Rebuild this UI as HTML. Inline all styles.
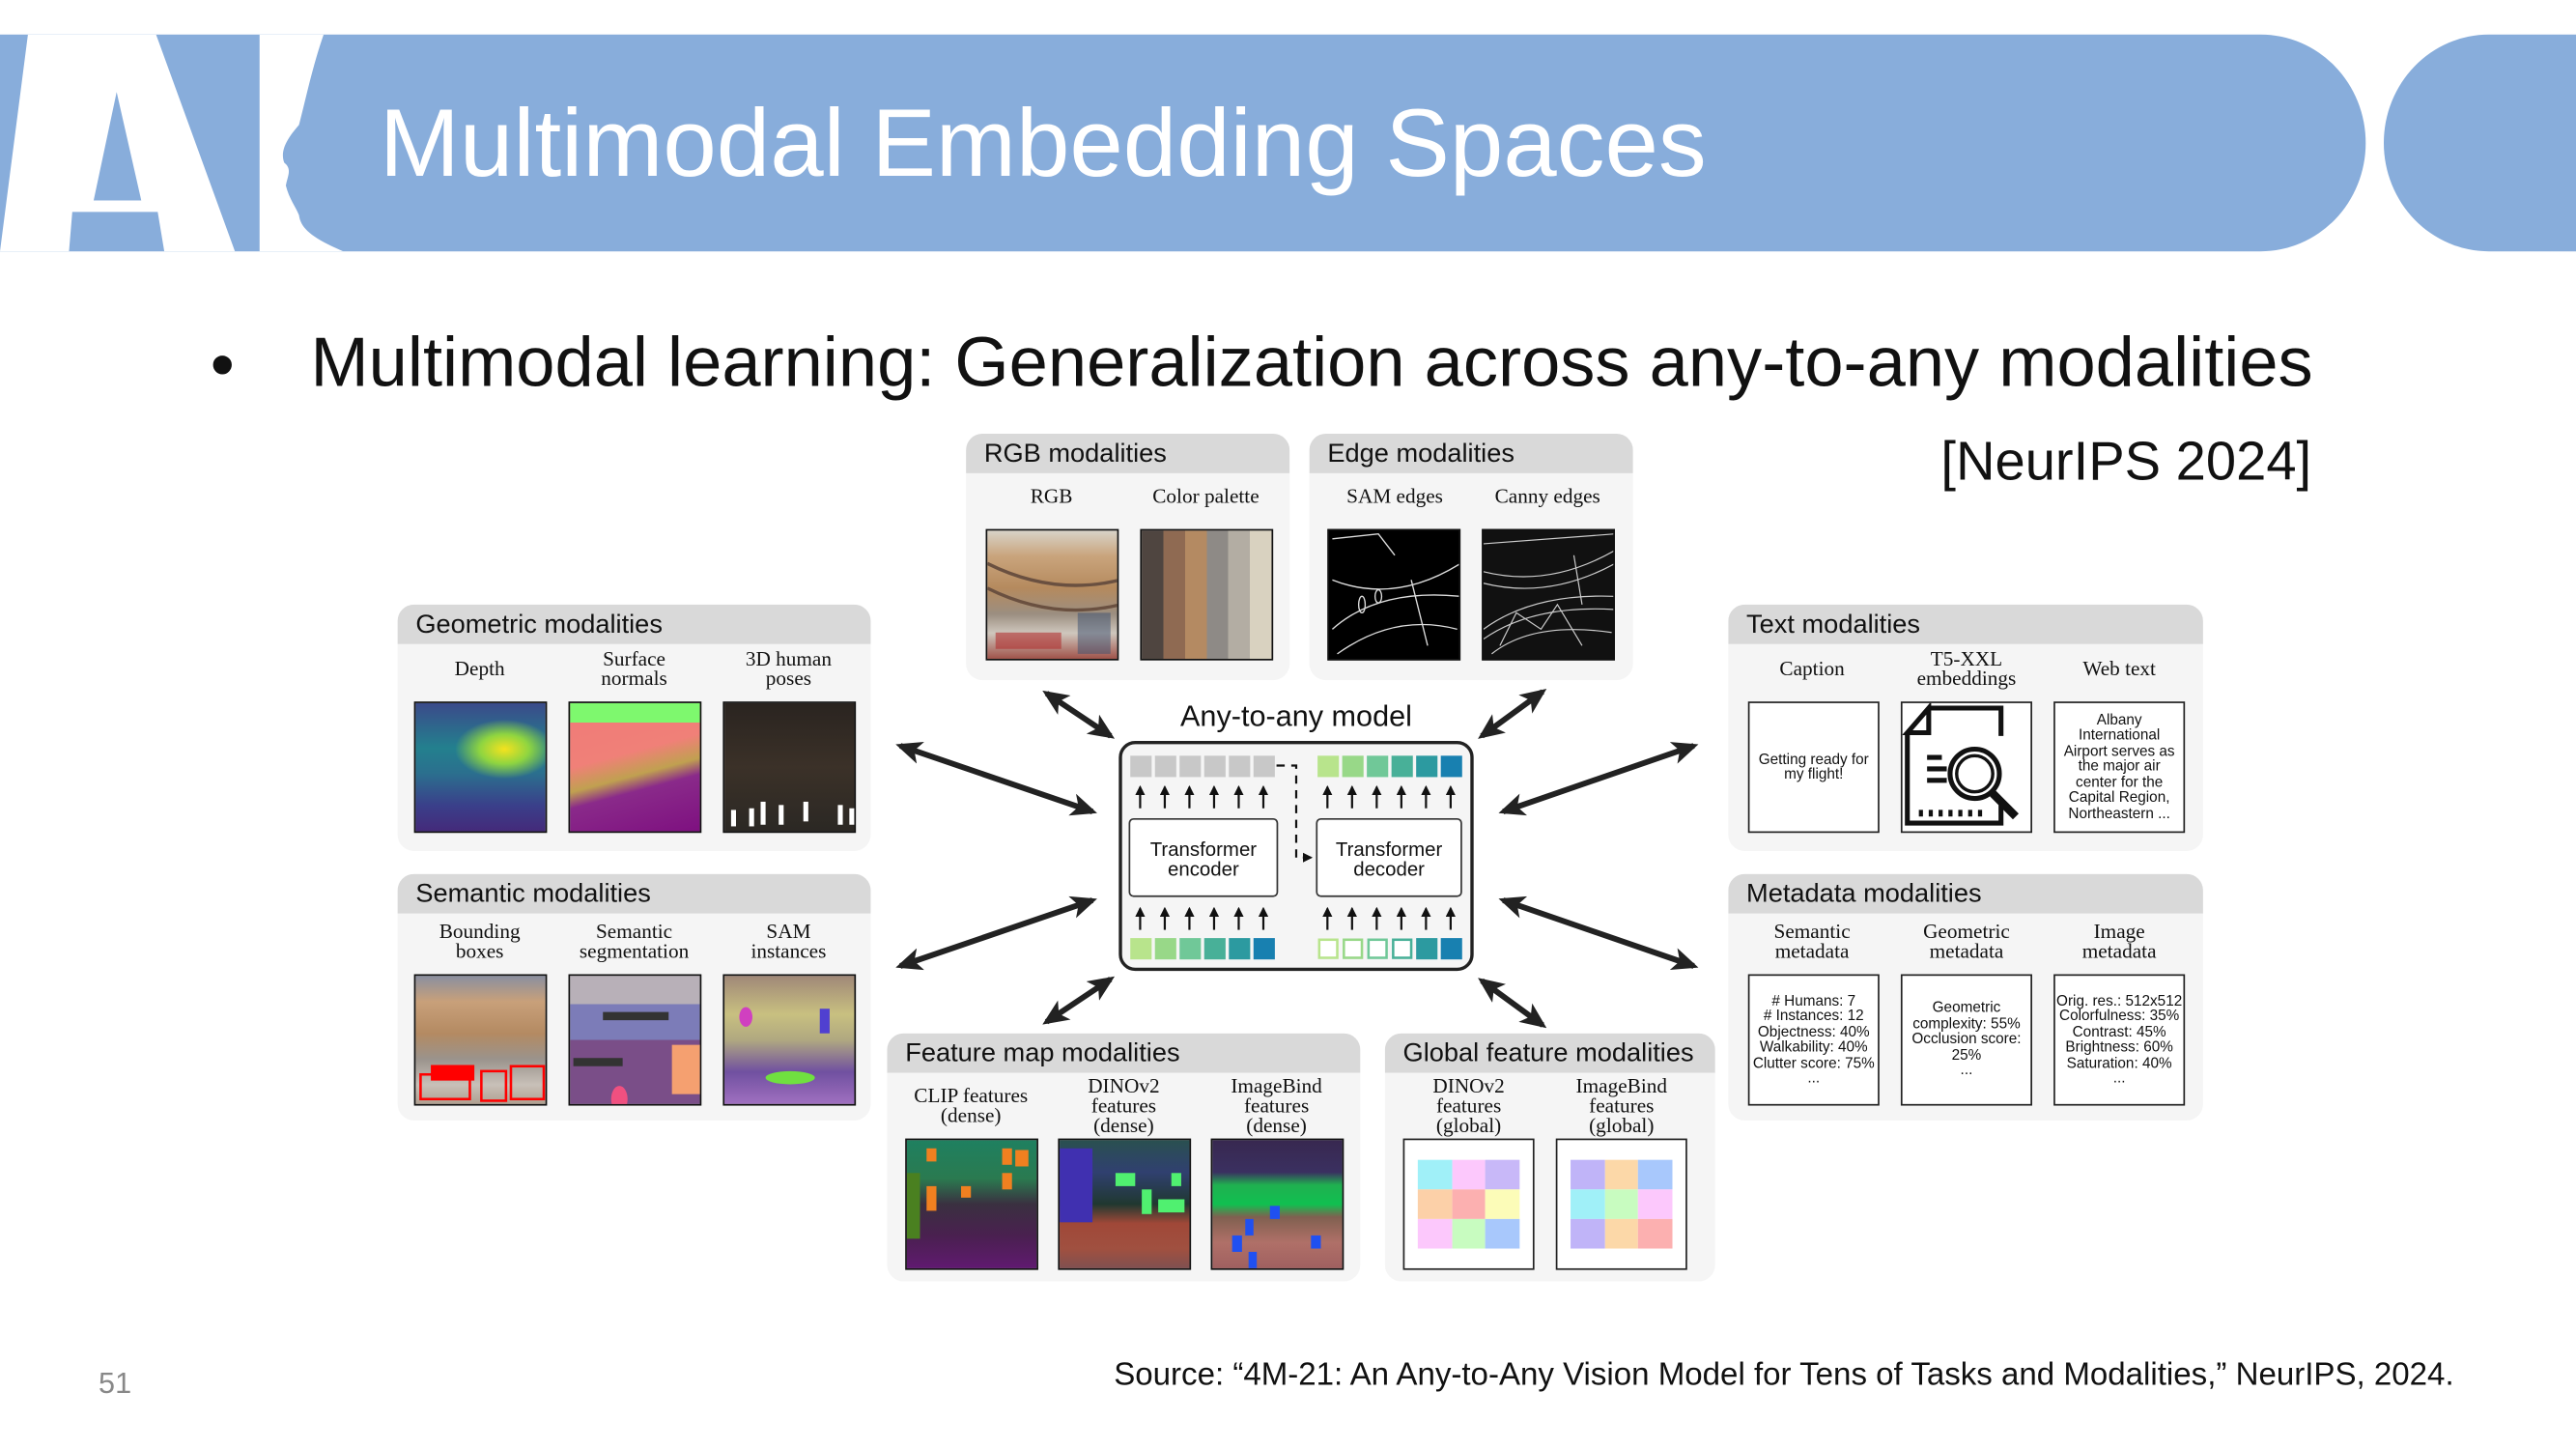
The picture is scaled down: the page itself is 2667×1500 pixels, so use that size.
<!DOCTYPE html>
<html><head><meta charset="utf-8"><style>
*{margin:0;padding:0;box-sizing:border-box}
html,body{width:2667px;height:1500px;overflow:hidden;background:#fff}
#root{position:absolute;left:0;top:0;width:1568px;height:882px;transform:scale(1.70089,1.70068);transform-origin:0 0;font-family:"Liberation Sans",sans-serif;color:#111}
.abs{position:absolute}
.panel{position:absolute;background:#f5f5f5;border-radius:10px;overflow:hidden}
.ph{position:absolute;left:0;top:0;right:0;height:24px;background:#d9d9d9;font-size:16px;line-height:26px;padding-left:11px;color:#111}
.lbl{position:absolute;width:100px;text-align:center;font-family:"Liberation Serif",serif;font-size:12.5px;line-height:12px;color:#111}
.img{position:absolute;width:81px;height:80px;border:1.5px solid #111;overflow:hidden}
.tb{position:absolute;width:80px;height:80px;border:1.2px solid #222;background:#fff;font-size:9px;line-height:9.5px;text-align:center;display:flex;align-items:center;justify-content:center}
</style></head><body><div id="root">

<div class="abs" style="left:0;top:21px;width:1440px;height:132px;background:#88addb;border-radius:0 64px 64px 0/0 66px 66px 0"></div>
<div class="abs" style="left:1451px;top:21px;width:130px;height:132px;background:#88addb;border-radius:64px 0 0 64px/66px 0 0 66px"></div>
<svg class="abs" style="left:0;top:21px" width="220" height="132" viewBox="0 0 220 132">
<polygon points="0,132 17,0 95,0 143,132 100,132 96,108 44,108 42,132" fill="#fff"/>
<polygon points="71,35 57,101 86,101" fill="#88addb"/>
<path d="M158,0 L197,0 C190,20 186,40 182,55 C176,62 170,70 173,78 C178,82 175,86 174,92 C176,100 180,105 182,110 C183,118 190,124 209,132 L158,132 Z" fill="#fff"/>
</svg>
<div class="abs" style="left:231px;top:53px;font-size:58.6px;line-height:70px;color:#fff;white-space:nowrap">Multimodal Embedding Spaces</div>

<div class="abs" style="left:128px;top:197px;font-size:42px;line-height:50px">•</div>
<div class="abs" style="left:189px;top:197px;font-size:42.5px;line-height:50px;white-space:nowrap">Multimodal learning: Generalization across any-to-any modalities</div>
<div class="abs" style="left:1100px;width:307px;top:261px;font-size:33px;line-height:40px;text-align:right">[NeurIPS 2024]</div>

<div class="panel" style="left:588px;top:264px;width:197px;height:150px"><div class="ph">RGB modalities</div></div>
<div class="lbl" style="left:590px;top:296px">RGB</div>
<div class="lbl" style="left:684px;top:296px">Color palette</div>
<div class="img" style="left:600px;top:322px;background:linear-gradient(180deg,#d8d3c8 0%,#c9a47c 20%,#b58a5e 45%,#9b8e80 65%,#cfc7bd 80%,#a0534a 100%)">
<svg width="81" height="80"><path d="M0,20 Q40,40 81,30" stroke="#6a5040" stroke-width="2" fill="none"/><path d="M0,35 Q40,55 81,45" stroke="#6a5040" stroke-width="2" fill="none"/><rect x="5" y="62" width="40" height="10" fill="#b03030" opacity=".6"/><rect x="55" y="50" width="20" height="25" fill="#3c5070" opacity=".5"/></svg></div>
<div class="img" style="left:694px;top:322px;background:linear-gradient(90deg,#4f4540 0 16.6%,#8f6a52 16.6% 33.3%,#b48a62 33.3% 50%,#8e8a86 50% 66.6%,#b3ada3 66.6% 83.3%,#d9d2c0 83.3%)"></div>

<div class="panel" style="left:797px;top:264px;width:197px;height:150px"><div class="ph">Edge modalities</div></div>
<div class="lbl" style="left:799px;top:296px">SAM edges</div>
<div class="lbl" style="left:892px;top:296px">Canny edges</div>
<div class="img" style="left:808px;top:322px;background:#000"><svg width="81" height="80" fill="none" stroke="#ddd" stroke-width=".8"><path d="M2,30 Q40,45 80,20"/><path d="M2,60 Q30,35 80,40"/><path d="M5,75 Q40,50 78,60"/><ellipse cx="20" cy="45" rx="2" ry="5"/><ellipse cx="30" cy="40" rx="2" ry="4"/><path d="M2,5 L30,2 L40,15"/><path d="M50,30 L60,70"/></svg></div>
<div class="img" style="left:902px;top:322px;background:#111"><svg width="81" height="80" fill="none" stroke="#ccc" stroke-width=".7"><path d="M0,25 Q40,35 80,12"/><path d="M0,32 Q40,42 80,20"/><path d="M0,60 Q30,38 80,40"/><path d="M0,66 Q30,45 80,48"/><path d="M5,75 Q30,55 78,62"/><path d="M10,70 L20,50 L35,60 L45,45 L60,70"/><path d="M0,8 L80,2"/><path d="M55,15 L60,45"/></svg></div>

<div class="panel" style="left:242px;top:368px;width:288px;height:150px"><div class="ph">Geometric modalities</div></div>
<div class="lbl" style="left:242px;top:401px">Depth</div>
<div class="lbl" style="left:336px;top:395px">Surface<br>normals</div>
<div class="lbl" style="left:430px;top:395px">3D human<br>poses</div>
<div class="img" style="left:252px;top:427px;background:radial-gradient(ellipse 30px 18px at 54px 28px,#f4e21e,#8fd540 50%,rgba(32,150,140,0) 100%),linear-gradient(180deg,#3b4a8a 0%,#23808e 35%,#2b6f8e 55%,#3a3f8a 80%,#442a7a 100%)"></div>
<div class="img" style="left:346px;top:427px;background:linear-gradient(180deg,#7ef86e 0 15%,transparent 15%),linear-gradient(165deg,#f07a78 0%,#f08078 40%,#c0a050 55%,#8a2a8a 65%,#7e1080 100%)"></div>
<div class="img" style="left:440px;top:427px;background:linear-gradient(180deg,#2a2420,#3b3128 50%,#2b2824)"><svg width="81" height="80" fill="#fff"><rect x="4" y="65" width="3" height="10"/><rect x="15" y="64" width="3" height="11"/><rect x="22" y="60" width="3" height="14"/><rect x="33" y="62" width="3" height="12"/><rect x="48" y="60" width="3" height="12"/><rect x="69" y="62" width="3" height="12"/><rect x="76" y="64" width="3" height="10"/></svg></div>

<div class="panel" style="left:242px;top:532px;width:288px;height:150px"><div class="ph">Semantic modalities</div></div>
<div class="lbl" style="left:242px;top:561px">Bounding<br>boxes</div>
<div class="lbl" style="left:336px;top:561px">Semantic<br>segmentation</div>
<div class="lbl" style="left:430px;top:561px">SAM<br>instances</div>
<div class="img" style="left:252px;top:593px;background:linear-gradient(180deg,#8a8fa0 0%,#c8a07a 20%,#b48a62 45%,#9a938c 65%,#c8c0b8 85%,#b0a090 100%)"><svg width="81" height="80" fill="none" stroke="#f00" stroke-width="1.5"><rect x="3" y="60" width="30" height="15"/><rect x="10" y="55" width="25" height="8" fill="#f00"/><rect x="58" y="55" width="20" height="20"/><rect x="40" y="58" width="15" height="18"/></svg></div>
<div class="img" style="left:346px;top:593px;background:linear-gradient(180deg,#b8b0b8 0 22%,#7c7cb8 22% 50%,#7a4e88 50% 100%)"><svg width="81" height="80"><rect x="20" y="22" width="40" height="5" fill="#333"/><rect x="2" y="50" width="30" height="5" fill="#333"/><rect x="62" y="42" width="18" height="30" fill="#f5a070"/><ellipse cx="30" cy="75" rx="5" ry="8" fill="#f05080"/></svg></div>
<div class="img" style="left:440px;top:593px;background:linear-gradient(180deg,#a08878 0%,#c8c080 30%,#b0a880 50%,#7050a0 75%,#a070c0 100%)"><svg width="81" height="80"><ellipse cx="40" cy="62" rx="15" ry="4" fill="#70e040"/><rect x="58" y="20" width="6" height="15" fill="#5040d0"/><ellipse cx="13" cy="25" rx="4" ry="6" fill="#d040c0"/></svg></div>

<div class="panel" style="left:1052px;top:368px;width:289px;height:150px"><div class="ph">Text modalities</div></div>
<div class="lbl" style="left:1053px;top:401px">Caption</div>
<div class="lbl" style="left:1147px;top:395px">T5-XXL<br>embeddings</div>
<div class="lbl" style="left:1240px;top:401px">Web text</div>
<div class="tb" style="left:1064px;top:427px">Getting ready for<br>my flight!</div>
<div class="tb" style="left:1157px;top:427px"><svg width="78" height="78" viewBox="0 0 78 78" fill="none" stroke="#111" stroke-width="3"><path d="M16,3 L60,3 L60,20"/><path d="M3,18 L16,3 L16,18 Z"/><path d="M3,18 L3,73 L60,73 L60,62"/><path d="M15,33 L24,33 M15,40 L27,40 M15,47 L27,47"/><circle cx="44" cy="43" r="15"/><circle cx="44" cy="43" r="11" stroke-width="2"/><path d="M55,55 L69,69" stroke-width="5"/><path d="M10,67 L52,67" stroke-dasharray="2.5 3.5" stroke-width="4"/></svg></div>
<div class="tb" style="left:1250px;top:427px">Albany<br>International<br>Airport serves as<br>the major air<br>center for the<br>Capital Region,<br>Northeastern ...</div>

<div class="panel" style="left:1052px;top:532px;width:289px;height:150px"><div class="ph">Metadata modalities</div></div>
<div class="lbl" style="left:1053px;top:561px">Semantic<br>metadata</div>
<div class="lbl" style="left:1147px;top:561px">Geometric<br>metadata</div>
<div class="lbl" style="left:1240px;top:561px">Image<br>metadata</div>
<div class="tb" style="left:1064px;top:593px">#&nbsp;Humans: 7<br>#&nbsp;Instances: 12<br>Objectness: 40%<br>Walkability: 40%<br>Clutter score: 75%<br>...</div>
<div class="tb" style="left:1157px;top:593px">Geometric<br>complexity: 55%<br>Occlusion score:<br>25%<br>...</div>
<div class="tb" style="left:1250px;top:593px">Orig. res.: 512x512<br>Colorfulness: 35%<br>Contrast: 45%<br>Brightness: 60%<br>Saturation: 40%<br>...</div>

<div class="panel" style="left:540px;top:629px;width:288px;height:151px"><div class="ph">Feature map modalities</div></div>
<div class="lbl" style="left:541px;top:661px">CLIP features<br>(dense)</div>
<div class="lbl" style="left:634px;top:655px">DINOv2<br>features<br>(dense)</div>
<div class="lbl" style="left:727px;top:655px">ImageBind<br>features<br>(dense)</div>
<div class="img" style="left:551px;top:693px;background:linear-gradient(180deg,#1f8060 0%,#2a7a50 30%,#3a3040 50%,#4a2050 75%,#601a70 100%)"><svg width="81" height="80" fill="#f08020"><rect x="12" y="5" width="6" height="8"/><rect x="58" y="5" width="6" height="10"/><rect x="66" y="6" width="8" height="10"/><rect x="58" y="20" width="6" height="10"/><rect x="12" y="28" width="6" height="15"/><rect x="33" y="28" width="6" height="7"/><rect x="0" y="20" width="8" height="40" fill="#4a8020"/></svg></div>
<div class="img" style="left:644px;top:693px;background:linear-gradient(180deg,#2a5050 0%,#304070 25%,#203830 50%,#a04838 65%,#a05040 85%,#805050 100%)"><svg width="81" height="80"><rect x="0" y="5" width="20" height="45" fill="#4030b0"/><rect x="34" y="20" width="12" height="8" fill="#50f070"/><rect x="50" y="30" width="6" height="15" fill="#50f070"/><rect x="60" y="36" width="16" height="8" fill="#50f070"/><rect x="68" y="20" width="6" height="8" fill="#50f070"/></svg></div>
<div class="img" style="left:737px;top:693px;background:linear-gradient(180deg,#382850 0%,#3a3060 25%,#20b050 35%,#10c050 50%,#806050 60%,#b07068 80%,#a06060 100%)"><svg width="81" height="80" fill="#2050f0"><rect x="12" y="58" width="6" height="10"/><rect x="20" y="48" width="5" height="10"/><rect x="60" y="58" width="6" height="8"/><rect x="35" y="40" width="6" height="8"/><rect x="22" y="68" width="5" height="10"/></svg></div>

<div class="panel" style="left:843px;top:629px;width:201px;height:151px"><div class="ph">Global feature modalities</div></div>
<div class="lbl" style="left:844px;top:655px">DINOv2<br>features<br>(global)</div>
<div class="lbl" style="left:937px;top:655px">ImageBind<br>features<br>(global)</div>
<div class="tb" style="left:854px;top:693px;display:block"><div style="position:absolute;left:8px;top:12px;width:62px;height:54px;display:grid;grid-template-columns:repeat(3,1fr);grid-template-rows:repeat(3,1fr)"><div style="background:#a0f0f8"></div><div style="background:#fcc8fc"></div><div style="background:#c8b8f8"></div><div style="background:#fcd0a8"></div><div style="background:#fcb0b0"></div><div style="background:#fcfcb8"></div><div style="background:#fcc8fc"></div><div style="background:#c8fcc0"></div><div style="background:#a8c8fc"></div></div></div>
<div class="tb" style="left:947px;top:693px;display:block"><div style="position:absolute;left:8px;top:12px;width:62px;height:54px;display:grid;grid-template-columns:repeat(3,1fr);grid-template-rows:repeat(3,1fr)"><div style="background:#c0b4f8"></div><div style="background:#fcd8a8"></div><div style="background:#a8c8fc"></div><div style="background:#a0f0f8"></div><div style="background:#c8fcc0"></div><div style="background:#fcc8fc"></div><div style="background:#c0b4f8"></div><div style="background:#fcd8a8"></div><div style="background:#fcb0b0"></div></div></div>

<div class="abs" style="left:681px;top:425px;width:216px;text-align:center;font-size:18px;line-height:22px">Any-to-any model</div>
<div class="abs" style="left:681px;top:451px;width:216px;height:140px;border:2px solid #222;border-radius:10px;background:#f5f5f5"></div>
<div class="abs" style="left:687px;top:498px;width:91px;height:48px;border:1.3px solid #333;border-radius:3px;background:#fff;font-size:12px;line-height:12px;text-align:center;padding-top:12px">Transformer<br>encoder</div>
<div class="abs" style="left:801px;top:498px;width:89px;height:48px;border:1.3px solid #333;border-radius:3px;background:#fff;font-size:12px;line-height:12px;text-align:center;padding-top:12px">Transformer<br>decoder</div>
<svg class="abs" style="left:0;top:0" width="1568" height="882">
<defs>
<marker id="s" markerWidth="6" markerHeight="6" refX="5" refY="3" orient="auto" markerUnits="userSpaceOnUse"><path d="M0,0 L6,3 L0,6 Z" fill="#111"/></marker>
<marker id="b" markerWidth="16" markerHeight="14" refX="13" refY="7" orient="auto-start-reverse" markerUnits="userSpaceOnUse"><path d="M0,0 L16,7 L0,14 L4,7 Z" fill="#222"/></marker></defs>
<g fill="#c8c8c8"><rect x="688" y="460" width="13" height="13"/><rect x="703" y="460" width="13" height="13"/><rect x="718" y="460" width="13" height="13"/><rect x="733" y="460" width="13" height="13"/><rect x="748" y="460" width="13" height="13"/><rect x="763" y="460" width="13" height="13"/></g>
<rect x="802" y="460" width="13" height="13" fill="#b8e48c"/><rect x="817" y="460" width="13" height="13" fill="#98d888"/><rect x="832" y="460" width="13" height="13" fill="#70c898"/><rect x="847" y="460" width="13" height="13" fill="#48b098"/><rect x="862" y="460" width="13" height="13" fill="#2c9aa0"/><rect x="877" y="460" width="13" height="13" fill="#1880b0"/>
<rect x="688" y="571" width="13" height="13" fill="#b8e48c"/><rect x="703" y="571" width="13" height="13" fill="#98d888"/><rect x="718" y="571" width="13" height="13" fill="#70c898"/><rect x="733" y="571" width="13" height="13" fill="#48b098"/><rect x="748" y="571" width="13" height="13" fill="#2c9aa0"/><rect x="763" y="571" width="13" height="13" fill="#1880b0"/>
<g fill="#fff" stroke-width="1.5"><rect x="803" y="572" width="11" height="11" stroke="#b8e48c"/><rect x="818" y="572" width="11" height="11" stroke="#98d888"/><rect x="833" y="572" width="11" height="11" stroke="#70c898"/><rect x="848" y="572" width="11" height="11" stroke="#48b098"/></g>
<rect x="862" y="571" width="13" height="13" fill="#2c9aa0"/><rect x="877" y="571" width="13" height="13" fill="#1880b0"/>
<g stroke="#111" stroke-width="1.3" marker-end="url(#s)">
<line x1="694" y1="492" x2="694" y2="479"/><line x1="709" y1="492" x2="709" y2="479"/><line x1="724" y1="492" x2="724" y2="479"/><line x1="739" y1="492" x2="739" y2="479"/><line x1="754" y1="492" x2="754" y2="479"/><line x1="769" y1="492" x2="769" y2="479"/>
<line x1="808" y1="492" x2="808" y2="479"/><line x1="823" y1="492" x2="823" y2="479"/><line x1="838" y1="492" x2="838" y2="479"/><line x1="853" y1="492" x2="853" y2="479"/><line x1="868" y1="492" x2="868" y2="479"/><line x1="883" y1="492" x2="883" y2="479"/>
<line x1="694" y1="566" x2="694" y2="553"/><line x1="709" y1="566" x2="709" y2="553"/><line x1="724" y1="566" x2="724" y2="553"/><line x1="739" y1="566" x2="739" y2="553"/><line x1="754" y1="566" x2="754" y2="553"/><line x1="769" y1="566" x2="769" y2="553"/>
<line x1="808" y1="566" x2="808" y2="553"/><line x1="823" y1="566" x2="823" y2="553"/><line x1="838" y1="566" x2="838" y2="553"/><line x1="853" y1="566" x2="853" y2="553"/><line x1="868" y1="566" x2="868" y2="553"/><line x1="883" y1="566" x2="883" y2="553"/>
</g>
<path d="M777,466 L789,466 L789,522 L798,522" stroke="#111" stroke-width="1.3" fill="none" stroke-dasharray="5 4" marker-end="url(#s)"/>
<g stroke="#222" stroke-width="3.5" fill="none" marker-start="url(#b)" marker-end="url(#b)">
<line x1="548" y1="454" x2="665" y2="494"/>
<line x1="548" y1="588" x2="665" y2="548"/>
<line x1="1031" y1="454" x2="915" y2="494"/>
<line x1="1031" y1="588" x2="915" y2="548"/>
<line x1="637" y1="422" x2="676" y2="448"/>
<line x1="939" y1="421" x2="902" y2="448"/>
<line x1="637" y1="622" x2="676" y2="596"/>
<line x1="939" y1="624" x2="902" y2="597"/>
</g>
</svg>

<div class="abs" style="left:60px;top:831px;font-size:18px;line-height:22px;color:#888">51</div>
<div class="abs" style="left:678px;top:825px;font-size:19.45px;line-height:24px;white-space:nowrap">Source: “4M-21: An Any-to-Any Vision Model for Tens of Tasks and Modalities,” NeurIPS, 2024.</div>
</div></body></html>
